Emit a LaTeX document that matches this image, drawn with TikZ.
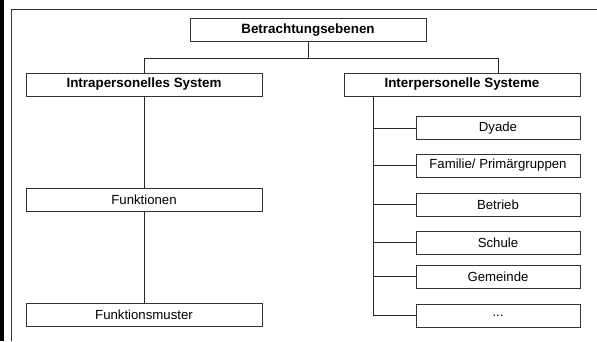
\documentclass[tikz,border=0pt]{standalone}
\usepackage{fontspec}
\setmainfont{Liberation Sans}
\usetikzlibrary{calc}

\begin{document}
\begin{tikzpicture}[x=1pt, y=-1pt, line width=0.8pt,
            box/.style={draw=black!80, rectangle, minimum width=236pt, minimum height=23pt, inner sep=0pt, font=\fontsize{13.2}{15}\selectfont},
            head/.style={box, font=\fontsize{13.4}{15}\selectfont\bfseries},
            sub/.style={box, minimum width=164pt},
            link/.style={draw=black!85}]
            \useasboundingbox (0,0) rectangle (597,341);
            % page edge and frame
            \fill[black] (0,0) rectangle (3.5,341);
            \draw[black!80, line width=1pt] (11.5,341) -- (11.5,9.5) -- (597,9.5);
            % levels
            \node [head] (top) at (308,30) {Betrachtungsebenen};
            \node [head] (intra) at (144,84.5) {Intrapersonelles System};
            \node [head] (inter) at (462,84.5) {Interpersonelle Systeme};
            \node [box] (funk) at (144,199.5) {Funktionen};
            \node [box] (muster) at (144,314.5) {Funktionsmuster};
            % interpersonal systems
            \node [sub] (dyade) at (498,128) {Dyade};
            \node [sub] (familie) at (498,165.5) {Familie/ Primärgruppen};
            \node [sub] (betrieb) at (498,204.5) {Betrieb};
            \node [sub] (schule) at (498,242.5) {Schule};
            \node [sub] (gemeinde) at (498,276.5) {Gemeinde};
            \node [sub] (dots) at (498,315.5) {...};
            % connectors
            \coordinate (split) at (308,58);
            \coordinate (rdrop) at (498,58);
            \coordinate (trunk) at (373,96);
            \draw [link] (top.south) -- (split);
            \draw [link] (intra.north) |- (rdrop) -- (rdrop |- inter.north);
            \draw [link] (intra.south) -- (funk.north);
            \draw [link] (funk.south) -- (muster.north);
            \draw [link] (trunk |- inter.south) -- (trunk |- dots.west) -- (dots.west);
            \foreach \n in {dyade, familie, betrieb, schule, gemeinde}
                \draw [link] (trunk |- \n.west) -- (\n.west);
\end{tikzpicture}
\end{document}
